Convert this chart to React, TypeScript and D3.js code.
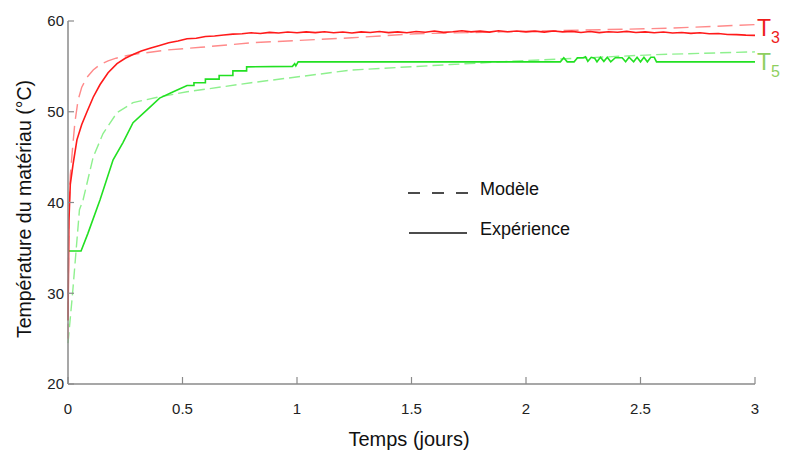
import React from "react";
import * as d3 from "d3";

const xTicks = [0, 0.5, 1, 1.5, 2, 2.5, 3];
const xTickLabels = ["0", "0.5", "1", "1.5", "2", "2.5", "3"];
const yTicks = [20, 30, 40, 50, 60];

// T3 experiment (days, °C)
const redExp: [number, number][] = [
  [0, 27], [0.004, 38], [0.01, 42], [0.022, 44.2], [0.039, 46.9], [0.06, 48.6], [0.083, 50.0],
  [0.11, 51.6], [0.14, 53.0], [0.175, 54.3], [0.214, 55.3], [0.25, 55.9], [0.284, 56.3],
  [0.32, 56.7], [0.358, 57.0], [0.4, 57.3], [0.44, 57.6], [0.48, 57.8], [0.52, 58.05],
  [0.56, 58.1], [0.6, 58.3], [0.64, 58.35], [0.68, 58.45], [0.72, 58.55], [0.76, 58.6],
  [0.8, 58.7], [0.84, 58.62], [0.88, 58.75], [0.92, 58.68], [0.96, 58.78], [1.0, 58.7],
  [1.04, 58.8], [1.08, 58.72], [1.12, 58.82], [1.16, 58.7], [1.2, 58.78], [1.24, 58.68],
  [1.28, 58.8], [1.32, 58.74], [1.36, 58.84], [1.4, 58.72], [1.44, 58.8], [1.48, 58.7],
  [1.52, 58.85], [1.56, 58.76], [1.6, 58.9], [1.64, 58.75], [1.68, 58.82], [1.72, 58.92],
  [1.76, 58.8], [1.8, 58.88], [1.84, 58.78], [1.88, 58.92], [1.92, 58.82], [1.96, 58.9],
  [2.0, 58.8], [2.04, 58.88], [2.08, 58.78], [2.12, 58.9], [2.16, 58.8], [2.2, 58.86],
  [2.24, 58.74], [2.28, 58.84], [2.32, 58.72], [2.36, 58.82], [2.4, 58.76], [2.44, 58.86],
  [2.48, 58.74], [2.52, 58.8], [2.56, 58.7], [2.6, 58.78], [2.64, 58.68], [2.68, 58.74],
  [2.72, 58.64], [2.76, 58.7], [2.8, 58.6], [2.84, 58.62], [2.88, 58.52], [2.92, 58.5],
  [2.96, 58.44], [3.0, 58.42],
];

// T3 model
const redModel: [number, number][] = [
  [0, 25], [0.003, 38], [0.01, 43], [0.02, 46], [0.03, 48.8], [0.044, 51.3], [0.06, 52.7],
  [0.083, 53.8], [0.11, 54.6], [0.14, 55.2], [0.175, 55.6], [0.21, 55.9], [0.26, 56.2],
  [0.31, 56.4], [0.43, 56.8], [0.58, 57.1], [0.8, 57.6], [1.0, 57.85], [1.24, 58.15],
  [1.52, 58.6], [1.89, 58.8], [2.62, 59.2], [3.0, 59.6],
];

// T5 experiment
const greenExp: [number, number][] = [
  [0, 34.65], [0.057, 34.65], [0.087, 36.6], [0.14, 40.3], [0.197, 44.7], [0.24, 46.6],
  [0.284, 48.8], [0.345, 50.2], [0.4, 51.5], [0.46, 52.2], [0.52, 52.9], [0.55, 52.9],
  [0.55, 53.2], [0.6, 53.2], [0.6, 53.6], [0.66, 53.6], [0.66, 54.0], [0.72, 54.0],
  [0.72, 54.5], [0.78, 54.5], [0.78, 54.95], [0.98, 55.0], [0.99, 55.3], [0.995, 55.05],
  [1.005, 55.5], [2.15, 55.5], [2.165, 55.95], [2.18, 55.5], [2.21, 55.5], [2.225, 55.95],
  [2.25, 55.95], [2.26, 56.05], [2.27, 55.55], [2.285, 56.0], [2.3, 55.9], [2.31, 55.5],
  [2.325, 56.0], [2.34, 55.55], [2.355, 56.0], [2.37, 55.5], [2.39, 55.95], [2.42, 55.95],
  [2.435, 55.5], [2.45, 56.0], [2.47, 55.5], [2.485, 56.0], [2.5, 55.5], [2.515, 56.0],
  [2.53, 55.5], [2.545, 56.0], [2.56, 56.0], [2.57, 55.5], [3.0, 55.5],
];

// T5 model
const greenModel: [number, number][] = [
  [0, 24.5], [0.02, 30], [0.05, 39.2], [0.066, 40.3], [0.11, 45], [0.153, 47.6],
  [0.214, 49.9], [0.284, 51.0], [0.39, 51.6], [0.52, 52.2], [0.8, 53.2], [1.24, 54.6],
  [1.67, 55.2], [1.89, 55.5], [2.57, 56.3], [3.0, 56.6],
];

const W = 785;
const H = 451;
const FONT = "'Liberation Sans', Arial, sans-serif";
const AXIS = "#8a8a8a";

export default function App() {
  const x = d3.scaleLinear().domain([0, 3]).range([68, 755]);
  const y = d3.scaleLinear().domain([20, 60]).range([384, 21]);
  const line = d3
    .line<[number, number]>()
    .x((d) => x(d[0]))
    .y((d) => y(d[1]));

  return (
    <svg
      width={W}
      height={H}
      style={{ position: "absolute", left: 0, top: 0, background: "#fff" }}
      fontFamily={FONT}
    >
      {/* series */}
      <path d={line(greenModel) || ""} fill="none" stroke="#8ef08e" strokeWidth={1.4} strokeDasharray="11 5" />
      <path d={line(redModel) || ""} fill="none" stroke="#ff8a8a" strokeWidth={1.4} strokeDasharray="15 7" />
      <path d={line(greenExp) || ""} fill="none" stroke="#22e022" strokeWidth={1.6} />
      <path d={line(redExp) || ""} fill="none" stroke="#ff1a1a" strokeWidth={1.6} />

      {/* axes */}
      <line x1={x(0)} x2={x(0)} y1={y(60)} y2={y(20)} stroke={AXIS} strokeWidth={1.5} />
      <line x1={x(0)} x2={x(3)} y1={y(20)} y2={y(20)} stroke={AXIS} strokeWidth={1.5} />
      {yTicks.map((t) => (
        <g key={"y" + t}>
          <line x1={x(0)} x2={x(0) + 6} y1={y(t)} y2={y(t)} stroke={AXIS} strokeWidth={1.2} />
          <text x={x(0) - 4} y={y(t)} dy="0.35em" textAnchor="end" fontSize={15} fill="#222">
            {t}
          </text>
        </g>
      ))}
      {xTicks.map((t, i) => (
        <g key={"x" + t}>
          <line x1={x(t)} x2={x(t)} y1={y(20)} y2={y(20) - 7} stroke={AXIS} strokeWidth={1.2} />
          <text x={x(t)} y={414} textAnchor="middle" fontSize={15} fill="#222">
            {xTickLabels[i]}
          </text>
        </g>
      ))}

      {/* axis titles */}
      <text x={409} y={446} textAnchor="middle" fontSize={20} fill="#111">
        Temps (jours)
      </text>
      <text
        transform="translate(31,209) rotate(-90)"
        textAnchor="middle"
        fontSize={19.5}
        fill="#111"
      >
        Température du matériau (°C)
      </text>

      {/* series labels */}
      <text x={757} y={36} fontSize={23} fill="#ee1c1c">
        T<tspan fontSize={16} dy={7}>3</tspan>
      </text>
      <text x={757} y={70} fontSize={23} fill="#8fcf5f">
        T<tspan fontSize={16} dy={7}>5</tspan>
      </text>

      {/* legend */}
      <line x1={408} x2={468} y1={193} y2={193} stroke="#111" strokeWidth={1.3} strokeDasharray="12 12" />
      <text x={480} y={195} fontSize={18} fill="#111">
        Modèle
      </text>
      <line x1={409} x2={467} y1={233} y2={233} stroke="#111" strokeWidth={1.3} />
      <text x={480} y={235} fontSize={18} fill="#111">
        Expérience
      </text>
    </svg>
  );
}
